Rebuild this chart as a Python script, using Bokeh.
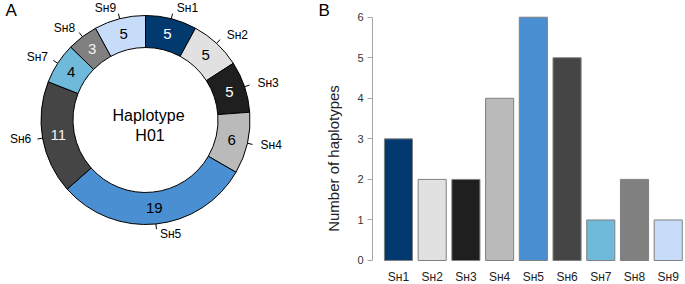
import math
from bokeh.plotting import figure
from bokeh.models import Range1d, FixedTicker
from bokeh.layouts import row
from bokeh.embed import file_html
from bokeh.resources import INLINE
from bokeh.core.properties import value

# ---------------- data ----------------
group_labels = ["Sʜ1", "Sʜ2", "Sʜ3", "Sʜ4", "Sʜ5", "Sʜ6", "Sʜ7", "Sʜ8", "Sʜ9"]
ring_values = [5, 5, 5, 6, 19, 11, 4, 3, 5]
bar_values = [3, 2, 2, 4, 6, 5, 1, 2, 1]
group_colors = ["#023a70", "#e1e1e1", "#1f1f1f", "#bababa", "#4a8fd1",
                "#454545", "#6fbadb", "#808080", "#c7dcf8"]
value_text_colors = ["white", "black", "white", "black", "black",
                     "#f2f2f2", "black", "#f2f2f2", "black"]
center_lines = ["Haplotype", "H01"]
y_ticks = [0, 1, 2, 3, 4, 5, 6]
y_axis_title = "Number of haplotypes"
panel_letters = ["A", "B"]

FONT = "Liberation Sans"

# ---------------- panel A : donut (also hosts panel B's y title and letter) ----------------
R_OUT, R_IN = 104.5, 72.5
total = sum(ring_values)
unit = 2 * math.pi / total
starts, ends, mids = [], [], []
acc = 0
for v in ring_values:
    a0 = math.pi / 2 - acc * unit
    a1 = math.pi / 2 - (acc + v) * unit
    starts.append(a0)
    ends.append(a1)
    mids.append((a0 + a1) / 2)
    acc += v

p1 = figure(width=345, height=284, x_range=Range1d(-145, 200),
            y_range=Range1d(-164.5, 119.5), x_axis_type=None, y_axis_type=None,
            toolbar_location=None, output_backend="svg", title=None,
            min_border_left=0, min_border_right=0, min_border_top=0, min_border_bottom=0)
p1.outline_line_color = None

p1.annular_wedge(x=0, y=0, inner_radius=R_IN, outer_radius=R_OUT,
                 start_angle=starts, end_angle=ends, direction="clock",
                 fill_color=group_colors, line_color="black", line_width=1)

# values inside ring
rm = (R_OUT + R_IN) / 2
p1.text(x=[rm * math.cos(a) for a in mids], y=[rm * math.sin(a) for a in mids],
        text=[str(v) for v in ring_values], text_color=value_text_colors,
        text_font=value(FONT), text_font_size="15px",
        text_align="center", text_baseline="middle")

# tick marks
p1.segment(x0=[R_OUT * math.cos(a) for a in mids], y0=[R_OUT * math.sin(a) for a in mids],
           x1=[1.05 * R_OUT * math.cos(a) for a in mids],
           y1=[1.05 * R_OUT * math.sin(a) for a in mids],
           line_color="black", line_width=1)

# outer labels
right_idx = [i for i, a in enumerate(mids) if math.cos(a) >= 0]
left_idx = [i for i, a in enumerate(mids) if math.cos(a) < 0]
for idx, align, xo in ((right_idx, "left", 3), (left_idx, "right", -1)):
    p1.text(x=[1.1 * R_OUT * math.cos(mids[i]) for i in idx],
            y=[1.1 * R_OUT * math.sin(mids[i]) for i in idx],
            text=[group_labels[i] for i in idx], text_color="black",
            text_font=value(FONT), text_font_size="12px",
            text_align=align, text_baseline="middle", x_offset=xo, y_offset=-0.5)

# center text
p1.text(x=[3, 4.5], y=[4.5, -15.5], text=center_lines, text_color="black",
        text_font=value(FONT), text_font_size="16px",
        text_align="center", text_baseline="middle")

# panel letters
p1.text(x=[-140, 173], y=[119, 119], text=panel_letters, text_color="black",
        text_font=value(FONT), text_font_size="17px",
        text_align="left", text_baseline="top")

# y-axis title of panel B
p1.text(x=[188], y=[-38.5], text=[y_axis_title], angle=math.pi / 2,
        text_color="#222222", text_font=value(FONT), text_font_size="15px",
        text_align="center", text_baseline="middle")

# ---------------- panel B : bars ----------------
centers = [round(0.7 + 1.2 * i, 2) for i in range(len(bar_values))]

p2 = figure(width=340, height=284, x_range=Range1d(-0.224, 10.915),
            y_range=Range1d(-0.592, 6.412), toolbar_location=None,
            output_backend="svg", title=None, x_axis_type=None,
            min_border_left=27, min_border_right=0,
            min_border_top=0, min_border_bottom=0)
p2.outline_line_color = None
p2.grid.visible = False

p2.vbar(x=centers, top=bar_values, bottom=0, width=1.0,
        fill_color=group_colors, line_color="#808080", line_width=1)

ya = p2.yaxis[0]
ya.ticker = FixedTicker(ticks=y_ticks)
ya.bounds = (0, 6)
ya.axis_line_color = "#a6a6a6"
ya.major_tick_line_color = "#a6a6a6"
ya.major_tick_out = 5
ya.major_tick_in = 0
ya.minor_tick_line_color = None
ya.major_label_text_font = FONT
ya.major_label_text_font_size = "11px"
ya.major_label_text_color = "#333333"
ya.major_label_standoff = 4

# category labels under the bars
p2.text(x=centers, y=[-0.41] * len(centers), text=group_labels,
        text_color="#222222", text_font=value(FONT), text_font_size="12px",
        text_align="center", text_baseline="middle")

layout = row(p1, p2)
open("out.html", "w").write(file_html(layout, INLINE))
